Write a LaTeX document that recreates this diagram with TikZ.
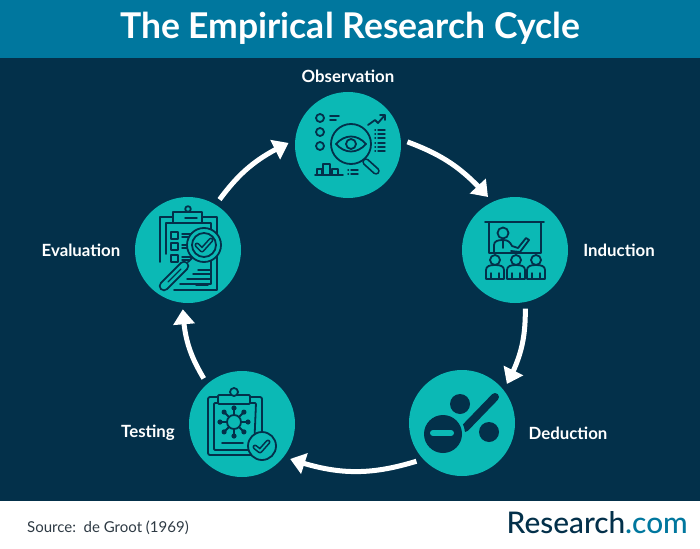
\documentclass[tikz,border=0pt]{standalone}
\usepackage{fontspec}
\setmainfont{Lato}
\newfontfamily\logofont{Lato Medium}
\usetikzlibrary{arrows.meta,bending}
\definecolor{navy}{HTML}{03304A}
\definecolor{teal1}{HTML}{0BB9B5}
\definecolor{band}{HTML}{00779E}
\definecolor{grayt}{HTML}{2E3A44}
\tikzset{
  stage/.style={circle,fill=teal1,minimum size=106pt,inner sep=0pt,outer sep=6.5pt},
  stagelabel/.style={font=\fontsize{16.8}{19}\selectfont\bfseries,text=white,inner sep=0pt},
  cyclearrow/.style={line width=5pt,draw=white,-{Triangle[length=15pt,width=21pt,flex]}},
  ink/.style={draw=navy,line width=1.8pt,line cap=round,line join=round},
  thin ink/.style={draw=navy,line width=1.4pt,line cap=round},
}
\begin{document}
\begin{tikzpicture}[x=1pt,y=-1pt]
\useasboundingbox (0,0) rectangle (700,548);
% page bands
\fill[white] (0,0) rectangle (700,548);
\fill[navy] (0,58) rectangle (700,501);
\fill[band] (0,0) rectangle (700,58);
\node[text=white,inner sep=0pt,font=\fontsize{35.5}{40}\selectfont\bfseries] (title) at (350,28) {The Empirical Research Cycle};

% the five stages
\node[stage] (obs) at (348,145) {};
\node[stage] (ind) at (515,250) {};
\node[stage] (ded) at (462,423) {};
\node[stage] (tes) at (242,424) {};
\node[stage] (eva) at (188,250) {};

\node[stagelabel] (lobs) at (348,76) {Observation};
\node[stagelabel] (lind) at (619,250) {Induction};
\node[stagelabel] (lded) at (568,433) {Deduction};
\node[stagelabel] (ltes) at (148,433) {Testing};
\node[stagelabel] (leva) at (81,250) {Evaluation};

% cycle arrows
\draw[cyclearrow] (obs.3) to[bend left=14] (ind.117);
\draw[cyclearrow] (ind.-80) to[bend left=14] (ded.41);
\draw[cyclearrow] (ded.220) to[bend left=18] (tes.-36);
\draw[cyclearrow] (tes.130) to[bend left=14] (eva.-95);
\draw[cyclearrow] (eva.58) to[bend left=14] (obs.178);

% observation icon: checklist, chart and magnifier over an eye
\begin{scope}[shift={(obs.center)}]
  \foreach \y in {-27,-13,1} \draw[ink] (-28,\y) circle (4);
  \draw[ink] (-18,-29) -- (-9,-29) (-18,-25) -- (-12,-25);
  \draw[ink] (3,-1) circle (20);
  \draw[ink] (-12,-1) .. controls (-3,-11) and (9,-11) .. (18,-1) .. controls (9,9) and (-3,9) .. (-12,-1) -- cycle;
  \draw[ink] (3,-1) circle (5);
  \draw[ink,line width=7.5pt] (18,17) -- (28,26);
  \draw[teal1,line width=4pt,line cap=round] (18,17) -- (28,26);
  \draw[ink] (20,-20) -- (27,-25) -- (30,-22) -- (37,-30) (32,-30) -- (37,-30) -- (37,-25);
  \foreach \y in {-15,-11,-7,-2,2,6} \draw[thin ink] (27,\y) -- (27.5,\y) (30,\y) -- (37,\y);
  \draw[ink] (-33,30) -- (-5,30);
  \draw[ink] (-31,30) -- (-31,24) -- (-26,24) -- (-26,30)
             (-25,30) -- (-25,19) -- (-18,19) -- (-18,30)
             (-16,30) -- (-16,24) -- (-10,24) -- (-10,30);
  \foreach \y in {25,29} \draw[thin ink] (0,\y) -- (0.5,\y) (3,\y) -- (10,\y);
\end{scope}

% induction icon: presenter at a board with three listeners
\begin{scope}[shift={(ind.center)}]
  \draw[ink] (-30,-28) -- (29,-28);
  \draw[ink] (-26,-28) -- (-26,3) -- (26,3) -- (26,-28);
  \draw[ink] (-12,-17) circle (5.5);
  \draw[ink] (-21,3) -- (-21,-5) .. controls (-21,-9) and (-17,-10) .. (-12,-10)
             .. controls (-7,-10) and (-5,-8) .. (-3,-4) -- (3,-2) -- (11,-12) -- (14,-10) -- (5,2) -- (-4,1);
  \draw[ink] (-12,-10) -- (-12,-2);
  \foreach \x in {-20,1,21} {
    \draw[ink,fill=teal1] (\x-9,29) -- (\x-9,20) .. controls (\x-9,16) and (\x-5,15) .. (\x,15)
       .. controls (\x+5,15) and (\x+9,16) .. (\x+9,20) -- (\x+9,29) -- cycle;
    \draw[ink,fill=teal1] (\x,10) circle (5);
    \draw[thin ink] (\x-4,29) -- (\x-4,23) (\x+4,29) -- (\x+4,23);
  }
\end{scope}

% deduction icon: percent sign with a minus disc
\begin{scope}[shift={(ded.center)}]
  \fill[navy] (-2,-19) circle (10);
  \fill[navy] (27,9) circle (10);
  \draw[navy,line width=8pt,line cap=round] (3,5) -- (33,-26);
  \fill[teal1] (-19,11) circle (22);
  \fill[navy] (-19,11) circle (19);
  \draw[teal1,line width=6pt,line cap=round] (-29,10) -- (-11,10);
\end{scope}

% testing icon: clipboard with a virus and a check badge
\begin{scope}[shift={(tes.center)}]
  \draw[ink,rounded corners=2pt] (-34,-27) rectangle (20,31);
  \draw[ink,rounded corners=1pt] (-28,-21) -- (-28,26) -- (12,26) -- (14,-21) -- cycle;
  \draw[ink,fill=teal1,rounded corners=1pt] (-24,-29) rectangle (8,-20);
  \draw[ink,fill=teal1] (-8,-32) circle (4);
  \draw[ink] (-8,-2) circle (7);
  \foreach \a in {0,45,...,315} {
    \draw[ink] (-8,-2) ++(\a:7) -- ++(\a:5);
    \fill[navy] (-8,-2) ++(\a:14) circle (2.6);
  }
  \draw[ink] (-20,19) -- (1,19);
  \draw[ink,fill=teal1] (20,22) circle (14);
  \draw[navy,line width=5pt,line cap=round,line join=round] (13,23) -- (18,27) -- (26,18);
  \draw[teal1,line width=1.8pt,line cap=round,line join=round] (13,23) -- (18,27) -- (26,18);
\end{scope}

% evaluation icon: clipboard under a magnifier with a check
\begin{scope}[shift={(eva.center)}]
  \draw[ink] (-28,12) -- (-28,-33) -- (-15,-33) (14,-33) -- (29,-33) -- (29,40) -- (-14,40);
  \draw[ink] (-22,4) -- (-22,-27) -- (-15,-27) (14,-27) -- (23,-27) -- (23,34) -- (-8,34);
  \draw[ink,fill=teal1] (-15,-38) rectangle (14,-27);
  \draw[ink] (0,-41) circle (2.8);
  \draw[thin ink] (-3,-32) -- (9,-32);
  \foreach \y in {-18,-7,5} {
    \draw[ink] (-17,\y) rectangle (-10,\y+7);
    \draw[thin ink] (-6,\y+2) -- (4,\y+2) (-6,\y+5) -- (1,\y+5);
  }
  \draw[thin ink] (-1,29) -- (22,29) (8,35) -- (20,35);
  \draw[thin ink] (10,20) -- (22,20) (5,24) -- (22,24);
  \draw[ink,fill=teal1] (16,-5) circle (17);
  \draw[ink] (16,-5) circle (12);
  \draw[navy,line width=5pt,line cap=round,line join=round] (9,-5) -- (14,0) -- (23,-10);
  \draw[teal1,line width=1.8pt,line cap=round,line join=round] (9,-5) -- (14,0) -- (23,-10);
  \draw[ink,line width=10.5pt] (-4,16) -- (-24,36);
  \draw[teal1,line width=6.6pt,line cap=round] (-4,16) -- (-24,36);
  \draw[ink] (0,12) -- (4,8);
  \draw[thin ink] (-7,19) -- (-20,32);
\end{scope}

% footer
\node[anchor=base west,inner sep=0pt,text=grayt,font=\fontsize{15}{18}\selectfont] (src) at (27,532) {Source:\ \ de Groot (1969)};
\node[anchor=base east,inner sep=0pt,font=\fontsize{29.8}{34}\logofont] (logo) at (688,533) {\textcolor{navy}{Research}\textcolor{band}{.com}};
\end{tikzpicture}
\end{document}
